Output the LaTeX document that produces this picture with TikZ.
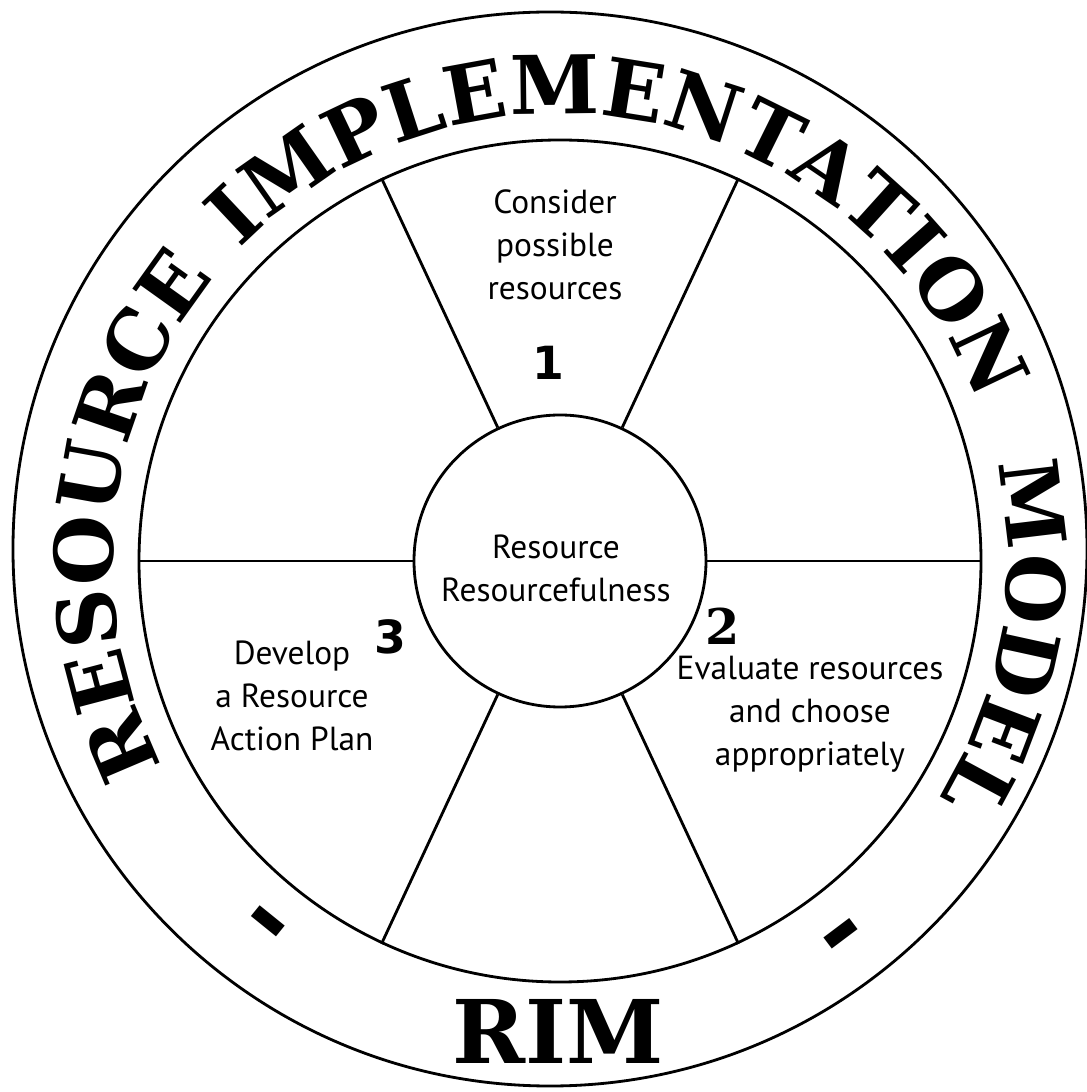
\documentclass[tikz,border=0pt]{standalone}
\usepackage{fontspec}
\usetikzlibrary{decorations.text}

\newfontfamily\wheelfont{PT Sans}
\newfontfamily\rimfont{DejaVu Serif}
\newfontfamily\numfont{DejaVu Sans}

\tikzset{
  wheel text/.style={align=center, font=\wheelfont\fontsize{9.5}{12.2}\selectfont},
  step number/.style={font=\numfont\bfseries\fontsize{13}{13}\selectfont},
  rim word/.style={decorate, decoration={text along path, text align=center,
      text={|\rimfont\bfseries\fontsize{23}{23}\selectfont|#1}}}
}

\begin{document}
\begin{tikzpicture}[thick, scale=1, every node/.style={scale=1}]
      \useasboundingbox (-5.60,-5.31) rectangle (5.26,5.61);

      % the three circles of the wheel
      \node at (-0.10,0.12) [draw, circle, inner sep=0, minimum size=10.74cm, name=band] {};
      \node at (0,0) [draw, circle, inner sep=0, minimum size=8.42cm, name=rim] {};
      \node at (0,0) [draw, circle, inner sep=0, minimum size=2.92cm, name=hub] {};

      % spokes
      \draw (hub.0) -- (rim.0);
      \draw (hub.65) -- (rim.65);
      \draw (hub.115) -- (rim.115);
      \draw (hub.180) -- (rim.180);
      \draw (hub.245) -- (rim.245);
      \draw (hub.295) -- (rim.295);

      % lettering round the band
      \path [rim word=RESOURCE] (213.9:4.47) arc[start angle=213.9, end angle=133.9, radius=4.47];
      \path [rim word=IMPLEMENTATION] (153.2:4.47) arc[start angle=153.2, end angle=3.2, radius=4.47];
      \path [rim word=MODEL] (25.3:4.47) arc[start angle=25.3, end angle=-44.7, radius=4.47];

      \node at (-0.02,-4.70) [font=\rimfont\bfseries\fontsize{25}{25}\selectfont, name=rimlabel] {RIM};
      \node at (231:4.74) [rotate=-39, font=\rimfont\bfseries\fontsize{30}{30}\selectfont, name=dashl] {-};
      \node at (-53:4.77) [rotate=37, font=\rimfont\bfseries\fontsize{30}{30}\selectfont, name=dashr] {-};

      % text inside the wheel
      \node at (-0.04,-0.07) [wheel text, name=center] {Resource\\Resourcefulness};

      \node at (-0.05,3.16) [wheel text, name=consider] {Consider\\possible\\resources};
      \node at (-0.12,1.98) [step number, name=n1] {1};

      \node at (2.50,-1.53) [wheel text, name=evaluate] {Evaluate resources\\and choose\\appropriately};
      \node at (1.63,-0.65) [step number, font=\rimfont\bfseries\fontsize{14}{14}\selectfont, name=n2] {2};

      \node at (-2.68,-1.35) [wheel text, name=develop] {Develop\\a Resource\\Action Plan};
      \node at (-1.70,-0.76) [step number, name=n3] {3};
\end{tikzpicture}
\end{document}
